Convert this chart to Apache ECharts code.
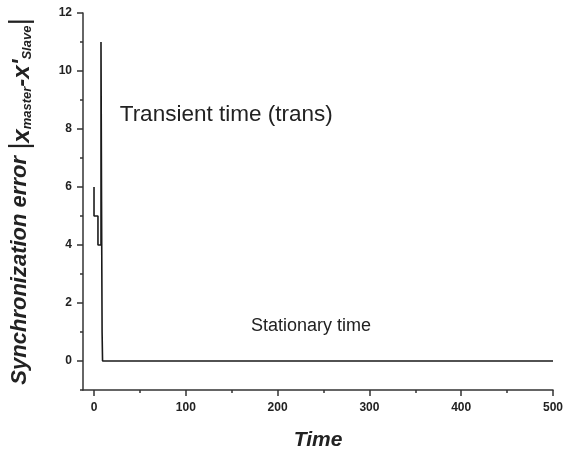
<!DOCTYPE html>
<html><head><meta charset="utf-8">
<script src="https://cdn.jsdelivr.net/npm/echarts@6/dist/echarts.min.js"></script>
<style>html,body{margin:0;padding:0;background:#fff}#c{width:564px;height:452px}</style>
</head><body><div id="c"></div>
<script>
var timeValues = [0, 0, 4.3, 4.3, 7.6, 7.6, 8.2, 8.2, 8.8, 8.8, 9.3, 500];
var errorValues = [6, 5, 5, 4, 4, 11, 11, 5.5, 5.5, 1, 0, 0];
var xMajorTicks = [0, 100, 200, 300, 400, 500];
var xMinorTicks = [50, 150, 250, 350, 450];
var yMajorTicks = [0, 2, 4, 6, 8, 10, 12];
var yMinorTicks = [-1, 1, 3, 5, 7, 9, 11];
var annotations = [
  {text: 'Transient time (trans)', x: 28, y: 8.5, size: 22.5},
  {text: 'Stationary time', x: 171, y: 1.2, size: 18}
];

var chart = echarts.init(document.getElementById('c'));
var font = 'Liberation Sans, Arial, sans-serif';
var axisCol = '#333';
var pts = timeValues.map(function (t, i) { return [t, errorValues[i]]; });

chart.setOption({
  animation: false,
  grid: {left: 83, right: 11, top: 13, bottom: 62, containLabel: false, outerBoundsMode: 'none'},
  xAxis: [{
    type: 'value', min: -12, max: 500,
    axisLine: {show: true, onZero: false, lineStyle: {color: axisCol, width: 1.5}},
    axisTick: {show: true, customValues: xMajorTicks, length: 6, lineStyle: {color: axisCol, width: 1.5}},
    axisLabel: {customValues: xMajorTicks, color: '#222', fontFamily: font, fontWeight: 'bold', fontSize: 12, margin: 12},
    splitLine: {show: false},
    name: 'Time', nameLocation: 'middle', nameGap: 40,
    nameTextStyle: {fontFamily: font, fontWeight: 'bold', fontStyle: 'italic', fontSize: 21, color: '#222'}
  }, {
    type: 'value', min: -12, max: 500, position: 'bottom',
    axisLine: {show: false, onZero: false},
    axisTick: {show: true, customValues: xMinorTicks, length: 3, lineStyle: {color: axisCol, width: 1.5}},
    axisLabel: {show: false}, splitLine: {show: false}
  }],
  yAxis: [{
    type: 'value', min: -1, max: 12,
    axisLine: {show: true, onZero: false, lineStyle: {color: axisCol, width: 1.5}},
    axisTick: {show: true, customValues: yMajorTicks, length: 6, lineStyle: {color: axisCol, width: 1.5}},
    axisLabel: {customValues: yMajorTicks, color: '#222', fontFamily: font, fontWeight: 'bold', fontSize: 12, margin: 11},
    splitLine: {show: false},
    name: 'Synchronization error {bar||}{x|x}{sub|master}{x|-x\'}{sub|Slave}{bar||}',
    nameLocation: 'middle', nameRotate: 90, nameGap: 49,
    nameTextStyle: {
      fontFamily: font, fontWeight: 'bold', fontStyle: 'italic', fontSize: 22, color: '#222',
      rich: {
        x: {fontFamily: font, fontWeight: 'bold', fontStyle: 'italic', fontSize: 24, color: '#222', verticalAlign: 'bottom'},
        sub: {fontFamily: font, fontWeight: 'bold', fontStyle: 'italic', fontSize: 13, color: '#222', verticalAlign: 'bottom', padding: [14, 0, 0, 0]},
        bar: {fontFamily: font, fontWeight: 'normal', fontSize: 28, color: '#222', verticalAlign: 'bottom'}
      }
    }
  }, {
    type: 'value', min: -1, max: 12, position: 'left',
    axisLine: {show: false, onZero: false},
    axisTick: {show: true, customValues: yMinorTicks, length: 3, lineStyle: {color: axisCol, width: 1.5}},
    axisLabel: {show: false}, splitLine: {show: false}
  }],
  series: [{
    type: 'line', data: pts, showSymbol: false, symbol: 'none',
    lineStyle: {color: '#1a1a1a', width: 1.6}
  }]
});

var g = annotations.map(function (a) {
  var p = chart.convertToPixel({xAxisIndex: 0, yAxisIndex: 0}, [a.x, a.y]);
  return {type: 'text', x: p[0], y: p[1],
    style: {text: a.text, fontFamily: font, fontSize: a.size, fill: '#222', textVerticalAlign: 'middle', verticalAlign: 'middle'}};
});
chart.setOption({graphic: g});
</script></body></html>
